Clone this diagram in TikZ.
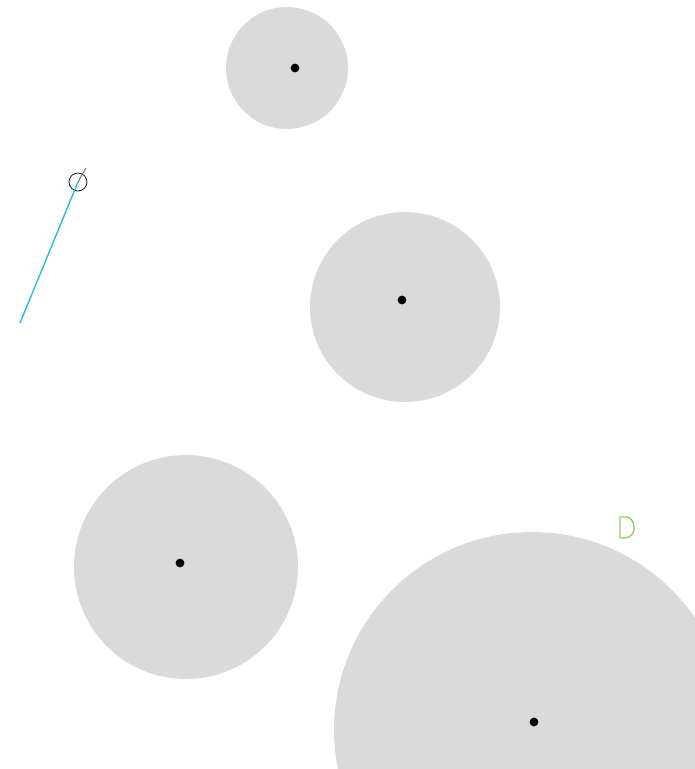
\documentclass[tikz,border=0pt]{standalone}
\usepackage{tikz}
\usetikzlibrary{positioning}
\definecolor{discgray}{RGB}{218,218,218}
\definecolor{rodcyan}{RGB}{40,190,225}
\definecolor{markgreen}{RGB}{140,210,90}

\tikzset{
    disc/.style={circle, fill=discgray, draw=none, inner sep=0pt, minimum size=#1},
    pivot/.style={circle, fill=black, inner sep=0pt, minimum size=5pt},
}

\begin{document}
\begin{tikzpicture}[x=0.02cm, y=-0.02cm]
        % Frame
        \useasboundingbox (0,0) rectangle (695,769);
        \clip (0,0) rectangle (695,769);

        % Discs
        \node[disc=2.44cm] (discA) at (287,68) {};
        \node[disc=3.8cm] (discB) at (405,307) {};
        \node[disc=4.48cm] (discC) at (186,567) {};
        \node[disc=7.92cm] (discD) at (532,730) {};

        % Centre marks
        \node[pivot] (dotA) at (295,68) {};
        \node[pivot] (dotB) at (402,300) {};
        \node[pivot] (dotC) at (180,563) {};
        \node[pivot] (dotD) at (534,722) {};

        % Rod with its ring
        \coordinate (rodEnd) at (20,323);
        \coordinate (rodTip) at (86,168);
        \node[circle, draw=black, inner sep=0pt, minimum size=0.36cm] (ring) at (78,182) {};
        \draw[rodcyan, thick] (rodEnd) -- (ring.center);
        \draw[black!70, thin] (ring.center) -- (rodTip);

        % Green marker
        \draw[markgreen, thick, line join=round] (620,517) -- (626,517)
            .. controls (633,517) and (636,527) .. (633,533)
            .. controls (631,537) and (628,538) .. (620,538) -- cycle;
    \end{tikzpicture}
\end{document}
